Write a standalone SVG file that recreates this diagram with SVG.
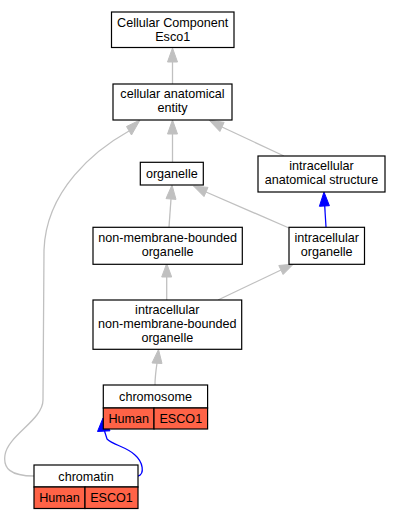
<svg xmlns="http://www.w3.org/2000/svg" width="402" height="520" viewBox="0 0 402 520">
<style>
.box{fill:#fff;stroke:#000;stroke-width:1.2}
.sp{fill:#ff6347;stroke:#000;stroke-width:1.2}
text{font-family:"Liberation Sans",Arial,sans-serif;font-size:12.6px;fill:#000;text-anchor:middle}
.e{fill:none;stroke:#c0c0c0;stroke-width:1.3}
.ea{fill:#c0c0c0;stroke:#c0c0c0}
.b{fill:none;stroke:#0000ff;stroke-width:1.3}
.ba{fill:#0000ff;stroke:#0000ff}
</style>
<rect width="402" height="520" fill="#fff"/>
<g id="edges">
<path class="e" d="M172.5,84 L172.5,62"/>
<polygon class="ea" points="172.5,48 167.5,62 177.5,62"/>
<path class="e" d="M172.5,162 L172.5,134"/>
<polygon class="ea" points="172.5,120 167.5,134 177.5,134"/>
<path class="e" d="M284,156 L222,127"/>
<polygon class="ea" points="209,120 219.9,131.5 224.1,122.4"/>
<path class="e" d="M169,227 L171,199"/>
<polygon class="ea" points="172,185 166,198.6 176,199.4"/>
<path class="e" d="M289,228 L206,192"/>
<polygon class="ea" points="193.5,186 204,196.6 208,187.4"/>
<path class="e" d="M166.7,300 L166.7,277"/>
<polygon class="ea" points="166.7,263.5 161.7,277 171.7,277"/>
<path class="e" d="M218,300 L281,270"/>
<polygon class="ea" points="293.5,264 278.8,265.5 283.1,274.5"/>
<path class="e" d="M155,385 C155,377 156,370 157,363"/>
<polygon class="ea" points="158.5,349.5 152,363 162,363.5"/>
<path class="e" d="M34,476 C10,476 3,468 5,455 C8,435 43,420 43,400 L44,250 C46,190 95,150 129,131"/>
<polygon class="ea" points="140,120 126.5,126.5 131.5,135"/>
<path class="b" d="M326,227 L324.7,206"/>
<polygon class="ba" points="324,192 319.4,206.3 329.4,205.7"/>
<path class="b" d="M138,476 C145,474 143,462 135,455 C127,447 113,445 107,439 L104.5,431"/>
<polygon class="ba" points="103,418 97.5,431.5 110,430.8"/>
</g>
<g id="n_cc">
<rect class="box" x="111.5" y="12" width="122.5" height="35.5"/>
<text x="172.7" y="26.5">Cellular Component</text>
<text x="172.7" y="40.5">Esco1</text>
</g>
<g id="n_cae">
<rect class="box" x="113" y="84" width="119" height="36"/>
<text x="172.5" y="98">cellular anatomical</text>
<text x="172.5" y="112">entity</text>
</g>
<g id="n_organelle">
<rect class="box" x="140.3" y="162.3" width="63" height="22.7"/>
<text x="171.8" y="178">organelle</text>
</g>
<g id="n_ias">
<rect class="box" x="258" y="156" width="127" height="36"/>
<text x="321.5" y="170">intracellular</text>
<text x="321.5" y="184">anatomical structure</text>
</g>
<g id="n_nmbo">
<rect class="box" x="93" y="227.3" width="149.3" height="37"/>
<text x="167.6" y="242">non-membrane-bounded</text>
<text x="167.6" y="256">organelle</text>
</g>
<g id="n_io">
<rect class="box" x="289" y="227.3" width="75.5" height="37"/>
<text x="326.7" y="242">intracellular</text>
<text x="326.7" y="256">organelle</text>
</g>
<g id="n_inmbo">
<rect class="box" x="93" y="300" width="148.7" height="49.3"/>
<text x="167.3" y="314">intracellular</text>
<text x="167.3" y="328">non-membrane-bounded</text>
<text x="167.3" y="342">organelle</text>
</g>
<g id="n_chromosome">
<rect class="box" x="103.3" y="385" width="104.3" height="23"/>
<rect class="sp" x="103.3" y="408" width="50.7" height="21"/>
<rect class="sp" x="154" y="408" width="53.6" height="21"/>
<text x="155.5" y="401">chromosome</text>
<text x="128.7" y="422.5">Human</text>
<text x="180.8" y="422.5">ESCO1</text>
</g>
<g id="n_chromatin">
<rect class="box" x="34" y="465" width="104" height="22"/>
<rect class="sp" x="34" y="487" width="51" height="21.5"/>
<rect class="sp" x="85" y="487" width="53" height="21.5"/>
<text x="86" y="481">chromatin</text>
<text x="59.5" y="502">Human</text>
<text x="111.5" y="502">ESCO1</text>
</g>
</svg>
